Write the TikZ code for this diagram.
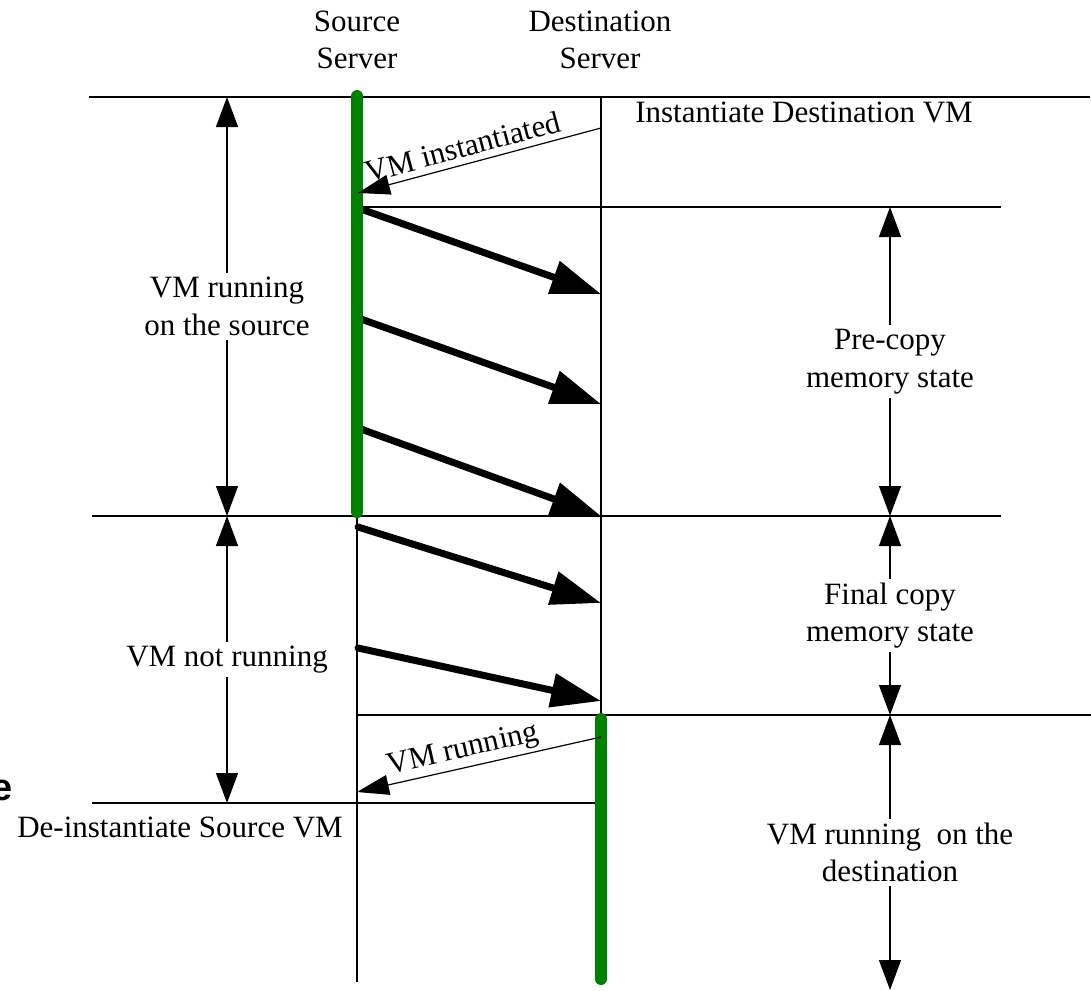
\documentclass[tikz,border=0pt]{standalone}
\usepackage{fontspec}
\setmainfont{Liberation Serif}
\newfontfamily\marksans{Liberation Sans}
\usetikzlibrary{arrows.meta}
\definecolor{vmgreen}{RGB}{0,128,0}
\tikzset{
	rule/.style={line width=0.6pt},
	runbar/.style={line width=6pt, vmgreen, line cap=round},
	pagecopy/.style={line width=3.5pt, line cap=round,
	                 -{Triangle[length=25pt,width=16.5pt]}},
	reply/.style={line width=0.6pt, -{Triangle[length=16pt,width=10pt]}},
	span/.style={line width=0.6pt,
	             {Triangle[length=15pt,width=11pt]}-{Triangle[length=15pt,width=11pt]}},
	phase/.style={fill=white, align=center, inner sep=2pt},
}

\begin{document}
\begin{tikzpicture}[x=0.5pt, y=-0.5pt,
	every node/.style={font=\fontsize{15.5}{18.75}\selectfont}]
\useasboundingbox (0,0) rectangle (1091,990);

% server time lines
\coordinate (srcTop) at (357,97);
\coordinate (srcEnd) at (357,982);
\coordinate (dstTop) at (601,97);
\coordinate (dstEnd) at (601,715);
\draw[rule] (srcTop) -- (srcEnd);
\draw[rule] (dstTop) -- (dstEnd);

% phase boundaries
\draw[rule] (89,97) -- (1090,97);
\draw[rule] (357,207) -- (1001,207);
\draw[rule] (92,516) -- (1001,516);
\draw[rule] (357,715) -- (1091,715);
\draw[rule] (92,803) -- (597,803);

% memory pages sent
\foreach \i/\ys/\yd in {1/208/294, 2/318/404, 3/428/516, 4/527/603, 5/648/701}{
	\coordinate (send\i) at (358,\ys);
	\coordinate (recv\i) at (601,\yd);
	\draw[pagecopy] (send\i) -- (recv\i);
}

% VM running
\draw[runbar] (357,96) -- (357,512);
\draw[runbar] (601,719) -- (601,979);

% acknowledgements
\coordinate (ackA) at (601,128);
\coordinate (ackB) at (358,193);
\draw[reply] (ackA) -- (ackB) node(instLabel)[pos=.55, above, sloped, inner sep=3pt] {VM instantiated};
\coordinate (runA) at (601,737);
\coordinate (runB) at (357,792);
\draw[reply] (runA) -- (runB) node(runLabel)[pos=.55, above, sloped, inner sep=1.5pt] {VM running};

% phase durations
\coordinate (lA) at (227,97);
\coordinate (lB) at (227,516);
\coordinate (lC) at (227,803);
\coordinate (rA) at (890,207);
\coordinate (rB) at (890,516);
\coordinate (rC) at (890,715);
\coordinate (rD) at (890,990);
\draw[span] (lA) -- (lB) node(srcRun)[phase, midway] {VM running\\on the source};
\draw[span] (lB) -- (lC) node(srcIdle)[phase, midway] {VM not running};
\draw[span] (rA) -- (rB) node(preCopy)[phase, midway] {Pre-copy\\memory state};
\draw[span] (rB) -- (rC) node(finalCopy)[phase, midway] {Final copy\\memory state};
\draw[span] (rC) -- (rD) node(dstRun)[phase, midway] {VM running~ on the\\destination};

% headings
\node[align=center](srcName) at (357,40) {Source\\Server};
\node[align=center](dstName) at (600,40) {Destination\\Server};
\node[anchor=base](instDst) at (804,123) {Instantiate Destination VM};
\node[anchor=base](deinstSrc) at (180,837) {De-instantiate Source VM};
\node[anchor=base west, inner sep=0pt, font=\marksans\bfseries\fontsize{19}{22}\selectfont](cutMark) at (-9,800) {e};

\end{tikzpicture}
\end{document}
